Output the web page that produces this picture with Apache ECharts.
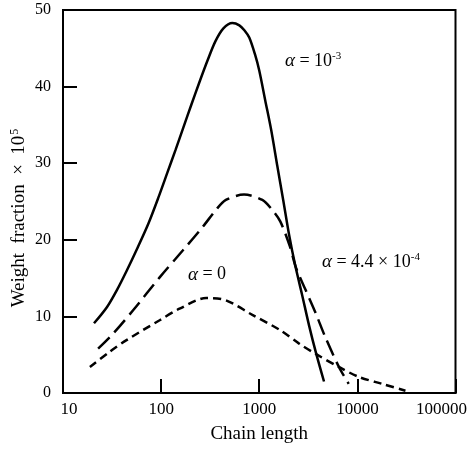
<!DOCTYPE html>
<html>
<head>
<meta charset="utf-8">
<script src="https://cdn.jsdelivr.net/npm/echarts@6/dist/echarts.min.js"></script>
<style>
  html, body { margin: 0; padding: 0; background: #fff; }
  #chart { width: 470px; height: 449px; }
</style>
</head>
<body>
<div id="chart"></div>
<script>
// alpha = 1e-3 (solid)
var solidX = [20.7, 28, 35.3, 44.7, 57.7, 74.6, 94.3, 116, 140, 169, 204, 246, 297, 357, 431, 532, 627, 705, 791, 910, 1000, 1151, 1325, 1525, 1754, 2018, 2322, 2735, 3221, 3793, 4571];
var solidY = [9.1, 11.2, 13.4, 16.0, 19.0, 22.2, 25.6, 28.8, 31.7, 34.7, 37.7, 40.6, 43.4, 45.9, 47.6, 48.3, 48.0, 47.35, 46.4, 44.1, 42.1, 38.2, 34.3, 29.7, 25.2, 20.6, 16.7, 12.8, 8.8, 5.2, 1.5];
// alpha = 4.4e-4 (long dash)
var longX = [22.8, 32.4, 51.8, 96.6, 166, 266, 362, 457, 700, 1075, 1355, 1637, 2056, 2362, 2979, 3765, 4710, 6486, 8160];
var longY = [5.8, 7.75, 10.8, 15.1, 18.6, 21.7, 23.9, 25.2, 25.9, 25.2, 23.9, 22.4, 19.1, 16.4, 13.4, 10.4, 7.3, 3.4, 1.2];
// alpha = 0 (short dash)
var shortX = [18.8, 30, 44.4, 96.6, 154, 288, 457, 851, 1637, 2547, 3765, 6486, 10350, 17780, 30900];
var shortY = [3.4, 5.4, 6.9, 9.5, 11.0, 12.4, 12.1, 10.2, 8.2, 6.45, 5.1, 3.4, 2.1, 1.2, 0.3];

function pairs(xs, ys) {
  return xs.map(function (x, i) { return [x, ys[i]]; });
}

var chart = echarts.init(document.getElementById('chart'));
var font = '"Liberation Serif", "DejaVu Serif", serif';

function alphaLabel(left, top, body, sup) {
  return {
    type: 'text', left: left, top: top,
    style: {
      text: '{a|α}{t|' + body + '}' + (sup ? '{s|' + sup + '}' : ''),
      rich: {
        a: { fontFamily: font, fontSize: 19, fontStyle: 'italic', fill: '#000' },
        t: { fontFamily: font, fontSize: 18, fill: '#000' },
        s: { fontFamily: font, fontSize: 11, fill: '#000', verticalAlign: 'top', padding: [0, 0, 9, 0] }
      }
    }
  };
}

var option = {
  animation: false,
  backgroundColor: '#fff',
  grid: {
    left: 63, right: 14, top: 10, bottom: 56,
    show: true, borderColor: '#000', borderWidth: 2
  },
  xAxis: {
    type: 'log',
    logBase: 10,
    min: 10,
    max: 100000,
    name: 'Chain length',
    nameLocation: 'middle',
    nameGap: 32,
    nameTextStyle: { color: '#000', fontFamily: font, fontSize: 19 },
    axisLine: { lineStyle: { color: '#000', width: 2 } },
    axisTick: { inside: true, length: 14, lineStyle: { color: '#000', width: 2 } },
    minorTick: { show: false },
    splitLine: { show: false },
    axisLabel: {
      color: '#000', fontFamily: font, fontSize: 17, margin: 8,
      formatter: function (v) {
        if (v === 10) return '{a|10}';
        if (v === 100000) return '{b|100000}';
        return String(v);
      },
      rich: {
        a: { fontFamily: font, fontSize: 17, color: '#000', padding: [0, 0, 0, 12] },
        b: { fontFamily: font, fontSize: 17, color: '#000', padding: [0, 28, 0, 0] }
      }
    }
  },
  yAxis: {
    type: 'value',
    min: 0,
    max: 50,
    interval: 10,
    axisLine: { lineStyle: { color: '#000', width: 2 } },
    axisTick: { inside: true, length: 14, lineStyle: { color: '#000', width: 2 } },
    splitLine: { show: false },
    axisLabel: { color: '#000', fontFamily: font, fontSize: 16, margin: 12 }
  },
  series: [
    {
      name: 'alpha=1e-3',
      type: 'line',
      data: pairs(solidX, solidY),
      smooth: 0.3,
      showSymbol: false,
      lineStyle: { color: '#000', width: 2.5 }
    },
    {
      name: 'alpha=4.4e-4',
      type: 'line',
      data: pairs(longX, longY),
      smooth: 0.3,
      showSymbol: false,
      lineStyle: { color: '#000', width: 2.5, type: [16, 7] }
    },
    {
      name: 'alpha=0',
      type: 'line',
      data: pairs(shortX, shortY),
      smooth: 0.3,
      showSymbol: false,
      lineStyle: { color: '#000', width: 2.5, type: [8, 5] }
    }
  ],
  graphic: [
    {
      type: 'text',
      x: 19, y: 218,
      rotation: Math.PI / 2,
      style: {
        text: '{t|Weight  fraction  ×  10}{s|5}',
        align: 'center',
        verticalAlign: 'middle',
        rich: {
          t: { fontFamily: font, fontSize: 19, fill: '#000' },
          s: { fontFamily: font, fontSize: 12, fill: '#000', verticalAlign: 'top', padding: [0, 0, 9, 1] }
        }
      }
    },
    alphaLabel(285, 51, ' = 10', '-3'),
    alphaLabel(322, 252, ' = 4.4 × 10', '-4'),
    alphaLabel(188, 265, ' = 0', '')
  ]
};

chart.setOption(option);
</script>
</body>
</html>
